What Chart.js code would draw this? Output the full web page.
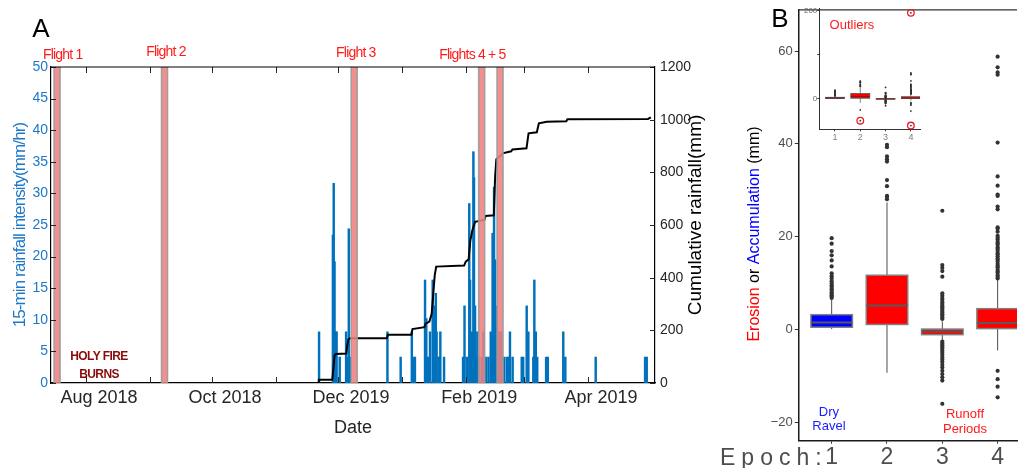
<!DOCTYPE html>
<html>
<head>
<meta charset="utf-8">
<script src="https://cdn.jsdelivr.net/npm/chart.js@4.4.1/dist/chart.umd.min.js"></script>
<style>
  html, body { margin: 0; padding: 0; background: #fff; overflow: hidden; }
  #wrap { position: relative; width: 1021px; height: 468px; }
  canvas { position: absolute; top: 0; }
</style>
</head>
<body>
<div id="wrap">
  <canvas id="chartA" width="720" height="468" style="left:0"></canvas>
  <canvas id="chartB" width="301" height="468" style="left:720px"></canvas>
  <canvas id="chartInset" width="150" height="150" style="left:790px"></canvas>
</div>
<script>
// ---- panel A : rainfall (days counted from 1 Aug 2018) ----
const rainDays = [112.8, 119.5, 119.9, 120.3, 120.8, 121.3, 122.8, 125.9, 126.6, 127.2, 127.8,
  145.9, 152.3, 157.7, 158.4, 159.2, 164.1, 164.7, 165.2, 166.0, 166.5, 167.8, 168.2, 168.6,
  169.3, 169.7, 170.6, 171.0, 171.5, 173.3, 182.5, 183.2, 184.3, 185.5, 185.9, 186.2, 186.7,
  187.5, 187.8, 188.3, 189.0, 189.4, 190.2, 191.5, 192.3, 193.6, 194.8, 195.9, 196.8, 197.5,
  198.0, 198.8, 199.0, 199.6, 200.6, 201.2, 202.3, 203.6, 204.4, 205.2, 206.5, 210.9, 211.6,
  213.3, 214.1, 216.5, 217.0, 217.7, 218.4, 222.7, 223.5, 231.0, 232.0, 246.7, 270.6, 271.4];
const rainRates = [8.1, 23.4, 31.6, 19.2, 8.1, 8.1, 4.1, 8.1, 4.1, 24.4, 4.1,
  8.1, 4.1, 8.1, 4.1, 4.1, 16.3, 10.2, 4.1, 4.1, 8.1, 16.3, 4.1, 12.2,
  14.2, 8.1, 4.1, 4.1, 8.1, 4.1, 4.1, 12.2, 4.1, 28.4, 16.3, 4.1, 8.1,
  36.6, 32.5, 12.2, 4.1, 8.1, 4.1, 4.1, 8.1, 4.1, 4.1, 8.1, 23.7, 31.0,
  19.5, 12.2, 4.1, 8.1, 8.1, 8.1, 4.1, 4.1, 4.1, 8.1, 4.1, 4.1, 4.1,
  12.2, 8.1, 4.1, 16.3, 8.1, 4.1, 4.1, 4.1, 8.1, 4.1, 4.1, 4.1, 4.1];

const cumDays = [92, 112.4, 112.7, 119.2, 119.8, 120.3, 121, 126, 126.4, 127, 128, 145.6, 146.1,
  157.5, 158, 163.8, 164.4, 166.2, 167.3, 168, 168.8, 169.5, 183, 183.8, 185.2, 186, 187, 188.3,
  192.8, 193.4, 197.4, 198, 198.6, 201, 201.6, 205.8, 206.4, 213.2, 214.2, 218.2, 219.2, 223,
  232.5, 233, 272, 273.4];
const cumRain = [0, 0, 12, 12, 60, 105, 110, 112, 140, 166, 170, 170, 183,
  183, 205, 212, 225, 233, 262, 330, 410, 442, 446, 461, 470, 540, 580, 612,
  619, 634, 637, 780, 850, 866, 872, 880, 887, 891, 948, 952, 986, 992,
  994, 1002, 1003, 1009];

const flightDays = [-14.0, 38.0, 129.8, 191.5, 200.4];
const flightNames = ['Flight 1', 'Flight 2', 'Flight 3', 'Flights 4 + 5'];
const flightNameDays = [-11.3, 38.7, 130.6, 187.0];

const monthStarts = [0, 31, 61, 92, 122, 153, 184, 212, 243];
const monthLabels = ['Aug 2018', '', 'Oct 2018', '', 'Dec 2019', '', 'Feb 2019', '', 'Apr 2019'];
const rateTicks = [0, 5, 10, 15, 20, 25, 30, 35, 40, 45, 50];
const cumTicks = [0, 200, 400, 600, 800, 1000, 1200];

// ---- panel B : change per epoch ----
const epochs = [1, 2, 3, 4];
const boxQ1 = [0.5, 1.1, -1.1, 0.2];
const boxMed = [1.5, 5.2, -0.4, 1.4];
const boxQ3 = [3.2, 11.7, 0.1, 4.5];
const whiskLo = [0.1, -9.3, -2.3, -4.5];
const whiskHi = [6.4, 27.4, 1.8, 10.7];
const boxColors = ['#0000ff', '#ff0000', '#ff0000', '#ff0000'];
const outliers = [
  [6.8, 7.1, 7.4, 7.8, 8.1, 8.5, 8.8, 9.2, 9.5, 9.9, 10.4, 11.0, 11.5, 12.1, 13.6, 14.9, 16.0, 16.9, 18.5, 19.7],
  [-50, -25.5, 28.1, 28.6, 28.8, 30.9, 32.2, 36.2, 36.7, 37.3, 39.3, 39.8],
  [-16.0, -11.0, -10.3, -9.6, -8.9, -8.2, -7.6, -7.0, -6.5, -6.0, -5.5, -5.0, -4.6, -4.2, -3.8, -3.4, -3.0, -2.6,
    2.3, 2.6, 3.0, 3.3, 3.7, 4.0, 4.4, 4.8, 5.1, 5.5, 5.9, 6.4, 6.8, 7.3, 7.8, 11.4, 12.6, 13.3, 13.9, 25.6],
  [-61, -28, -14.6, -12.3, -10.7, -8.9, 11.0, 11.3, 11.7, 12.2, 12.5, 12.9, 13.4, 13.7, 14.1, 14.6, 15.0, 15.3,
    15.8, 16.2, 16.5, 17.0, 17.4, 17.7, 18.2, 18.6, 18.9, 19.4, 19.8, 20.2, 21.1, 21.8, 22.0, 25.9, 26.5, 28.8,
    29.1, 31.0, 33.0, 40.3, 54.9, 55.4, 56.5, 58.8, 195]
];
const circledEpochs = [2, 4, 4];
const circledValues = [-50, 195, -61];
const changeTicks = [-20, 0, 20, 40, 60];
const insetTicks = [0, 100, 200];

const FONT = "'Liberation Sans', Arial, Helvetica, sans-serif";
Chart.defaults.font.family = FONT;
Chart.defaults.animation = false;
Chart.defaults.plugins.legend.display = false;
Chart.defaults.plugins.tooltip.enabled = false;

const BAND_HALF = 1.45;   // half width of a flight band, days
const BOX_WIDTH = 0.75;   // box width, epoch units

function txt(ctx, s, x, y, font, color, opts = {}) {
  ctx.save();
  ctx.font = font;
  ctx.fillStyle = color;
  ctx.textAlign = opts.align || 'center';
  ctx.textBaseline = opts.baseline || 'middle';
  if (opts.spacing) ctx.letterSpacing = opts.spacing;
  ctx.translate(x, y);
  if (opts.rotate) ctx.rotate(opts.rotate);
  ctx.fillText(s, 0, 0);
  ctx.restore();
}

const panelADecor = {
  id: 'panelADecor',
  afterDatasetsDraw(chart) {
    const { ctx, chartArea: a, scales: { x, y, y1 } } = chart;
    ctx.save();
    // flight bands over the series
    flightDays.forEach(d => {
      const l = x.getPixelForValue(d - BAND_HALF);
      const r = x.getPixelForValue(d + BAND_HALF);
      ctx.fillStyle = 'rgba(240,128,128,0.88)';
      ctx.fillRect(l, a.top, r - l, a.bottom - a.top);
      ctx.strokeStyle = 'rgba(155,155,155,0.9)';
      ctx.lineWidth = 1.6;
      ctx.beginPath();
      ctx.moveTo(l, a.top); ctx.lineTo(l, a.bottom);
      ctx.moveTo(r, a.top); ctx.lineTo(r, a.bottom);
      ctx.stroke();
    });
    // inward tick marks and top frame
    ctx.strokeStyle = '#262626';
    ctx.lineWidth = 1;
    ctx.beginPath();
    monthStarts.forEach(v => {
      const px = Math.round(x.getPixelForValue(v)) + 0.5;
      ctx.moveTo(px, a.top); ctx.lineTo(px, a.top + 6);
      ctx.moveTo(px, a.bottom); ctx.lineTo(px, a.bottom - 6);
    });
    rateTicks.forEach(v => {
      const py = Math.round(y.getPixelForValue(v)) + 0.5;
      ctx.moveTo(a.left, py); ctx.lineTo(a.left + 5, py);
    });
    cumTicks.forEach(v => {
      const py = Math.round(y1.getPixelForValue(v)) + 0.5;
      ctx.moveTo(a.right, py); ctx.lineTo(a.right - 5, py);
    });
    ctx.stroke();
    ctx.lineWidth = 1.2;
    ctx.strokeStyle = '#000';
    ctx.beginPath();
    ctx.moveTo(a.left, a.top); ctx.lineTo(a.right, a.top);
    ctx.stroke();
    ctx.restore();
  },
  afterDraw(chart) {
    const { ctx, chartArea: a, scales: { x, y } } = chart;
    const labelY = [55, 51.7, 53, 55];
    flightNames.forEach((s, i) => {
      txt(ctx, s, x.getPixelForValue(flightNameDays[i]), labelY[i], '14px ' + FONT, '#ff1a1a', { spacing: '-0.8px' });
    });
    const fx = x.getPixelForValue(6.3);
    txt(ctx, 'HOLY FIRE', fx, y.getPixelForValue(4.1), 'bold 12px ' + FONT, '#8b0a0a', { spacing: '-0.6px' });
    txt(ctx, 'BURNS', fx, y.getPixelForValue(1.25), 'bold 12px ' + FONT, '#8b0a0a', { spacing: '-0.6px' });
    txt(ctx, 'A', 41, 30, '26px ' + FONT, '#000');
    txt(ctx, '15-min rainfall intensity(mm/hr)', 20, (a.top + a.bottom) / 2, '17px ' + FONT, '#1e78c8',
      { rotate: -Math.PI / 2, spacing: '-0.9px' });
    txt(ctx, 'Cumulative rainfall(mm)', 696, 215, '19px ' + FONT, '#000', { rotate: -Math.PI / 2 });
  }
};

new Chart(document.getElementById('chartA'), {
  type: 'bar',
  data: {
    datasets: [
      {
        type: 'line', yAxisID: 'y1', order: 0,
        data: cumDays.map((d, i) => ({ x: d, y: cumRain[i] })),
        borderColor: '#000', borderWidth: 2, pointRadius: 0, tension: 0
      },
      {
        type: 'bar', yAxisID: 'y', order: 1,
        data: rainDays.map((d, i) => ({ x: d, y: rainRates[i] })),
        backgroundColor: '#0072BD', borderWidth: 0, barThickness: 1.8, grouped: false
      }
    ]
  },
  options: {
    responsive: false, devicePixelRatio: 1, events: [],
    layout: { padding: { top: 67, left: 0, right: 0, bottom: 0 } },
    scales: {
      x: {
        type: 'linear', min: -16.94, max: 275.4, offset: false,
        afterBuildTicks: s => { s.ticks = monthStarts.map(v => ({ value: v })); },
        afterFit: s => { s.height = 85; },
        ticks: {
          autoSkip: false, maxRotation: 0, minRotation: 0, padding: 4, labelOffset: 13,
          color: '#262626', font: { size: 18 }, callback: (v, i) => monthLabels[i]
        },
        grid: { display: false, drawTicks: false },
        border: { color: '#000', width: 1.2 },
        title: { display: true, text: 'Date', color: '#262626', font: { size: 18 }, padding: { top: 0, bottom: 29 } }
      },
      y: {
        position: 'left', min: 0, max: 50,
        afterBuildTicks: s => { s.ticks = rateTicks.map(v => ({ value: v })); },
        afterFit: s => { s.width = 51; },
        ticks: { padding: 3, color: '#1e78c8', font: { size: 14 }, callback: v => String(v) },
        grid: { display: false, drawTicks: false },
        border: { color: '#000', width: 1.2 }
      },
      y1: {
        position: 'right', min: 0, max: 1200,
        afterBuildTicks: s => { s.ticks = cumTicks.map(v => ({ value: v })); },
        afterFit: s => { s.width = 65; },
        ticks: { padding: 5, color: '#262626', font: { size: 14 }, callback: v => String(v) },
        grid: { display: false, drawTicks: false },
        border: { color: '#000', width: 1.2 }
      }
    }
  },
  plugins: [panelADecor]
});

// ---- box plots (shared by panel B and its inset) ----
function boxPlugin(id, st) {
  return {
    id,
    beforeDatasetsDraw(chart) {
      const { ctx, chartArea: a, scales: { x, y } } = chart;
      const half = x.getPixelForValue(1 + BOX_WIDTH / 2) - x.getPixelForValue(1);
      ctx.save();
      ctx.beginPath();
      ctx.rect(a.left, a.top, a.right - a.left, a.bottom - a.top);
      ctx.clip();
      epochs.forEach((e, i) => {
        const cx = x.getPixelForValue(e);
        const top = y.getPixelForValue(boxQ3[i]);
        const bot = y.getPixelForValue(boxQ1[i]);
        ctx.strokeStyle = '#4d4d4d';
        ctx.lineWidth = st.whisker;
        ctx.beginPath();
        ctx.moveTo(cx, y.getPixelForValue(whiskHi[i])); ctx.lineTo(cx, top);
        ctx.moveTo(cx, bot); ctx.lineTo(cx, y.getPixelForValue(whiskLo[i]));
        ctx.stroke();
        ctx.fillStyle = boxColors[i];
        ctx.fillRect(cx - half, top, 2 * half, bot - top);
        ctx.strokeStyle = st.edgeColor;
        ctx.lineWidth = st.edge;
        ctx.strokeRect(cx - half, top, 2 * half, bot - top);
        const m = y.getPixelForValue(boxMed[i]);
        ctx.strokeStyle = st.medianColor;
        ctx.lineWidth = st.median;
        ctx.beginPath();
        ctx.moveTo(cx - half, m); ctx.lineTo(cx + half, m);
        ctx.stroke();
      });
      ctx.restore();
    }
  };
}

const outlierPoints = outliers.flatMap((vals, i) => vals.map(v => ({ x: epochs[i], y: v })));

const panelBDecor = {
  id: 'panelBDecor',
  afterDraw(chart) {
    const { ctx, chartArea: a, scales: { x, y } } = chart;
    ctx.save();
    ctx.strokeStyle = '#333';
    ctx.lineWidth = 1.3;
    ctx.beginPath();
    ctx.moveTo(a.left, a.top); ctx.lineTo(a.right, a.top);
    ctx.stroke();
    ctx.restore();

    // y title in three colours, reading upwards
    ctx.save();
    ctx.font = '16px ' + FONT;
    ctx.textBaseline = 'middle';
    ctx.textAlign = 'left';
    const parts = [['Erosion', '#ff0000'], [' or ', '#000'], ['Accumulation', '#0000ff'], [' (mm)', '#000']];
    const total = parts.reduce((s, p) => s + ctx.measureText(p[0]).width, 0);
    ctx.translate(35, 234);
    ctx.rotate(-Math.PI / 2);
    let cur = -total / 2;
    parts.forEach(([s, c]) => {
      ctx.fillStyle = c;
      ctx.fillText(s, cur, 0);
      cur += ctx.measureText(s).width;
    });
    ctx.restore();

    txt(ctx, 'Dry', x.getPixelForValue(0.95), y.getPixelForValue(-17.8), '13px ' + FONT, '#1a1aff');
    txt(ctx, 'Ravel', x.getPixelForValue(0.95), y.getPixelForValue(-20.9), '13px ' + FONT, '#1a1aff');
    txt(ctx, 'Runoff', x.getPixelForValue(3.41), y.getPixelForValue(-18.2), '13px ' + FONT, '#ff1a1a');
    txt(ctx, 'Periods', x.getPixelForValue(3.41), y.getPixelForValue(-21.5), '13px ' + FONT, '#ff1a1a');
    txt(ctx, 'Epoch:', 0, 465, '23px ' + FONT, '#4d4d4d', { align: 'left', baseline: 'alphabetic', spacing: '6px' });
    txt(ctx, 'B', 60, 20, '26px ' + FONT, '#000');
  }
};

const minus = v => (v < 0 ? '\u2212' + Math.abs(v) : String(v));

new Chart(document.getElementById('chartB'), {
  type: 'scatter',
  data: {
    datasets: [{ data: outlierPoints, pointRadius: 2.1, pointBackgroundColor: '#333', pointBorderWidth: 0 }]
  },
  options: {
    responsive: false, devicePixelRatio: 1, events: [],
    layout: { padding: { top: 5, left: 0, right: 0, bottom: 0 } },
    scales: {
      x: {
        type: 'linear', min: 0.404, max: 4.35,
        afterBuildTicks: s => { s.ticks = epochs.map(v => ({ value: v })); },
        afterFit: s => { s.height = 27.3; },
        ticks: { padding: 0, color: '#4d4d4d', font: { size: 23 }, callback: v => String(v) },
        grid: { display: true, drawOnChartArea: false, drawTicks: true, tickLength: 3, color: '#333' },
        border: { color: '#1a1a1a', width: 1.5 }
      },
      y: {
        min: -23.95, max: 68.9,
        afterBuildTicks: s => { s.ticks = changeTicks.map(v => ({ value: v })); },
        afterFit: s => { s.width = 78.7; },
        ticks: { padding: 2, color: '#4d4d4d', font: { size: 13 }, callback: minus },
        grid: { display: true, drawOnChartArea: false, drawTicks: true, tickLength: 4, color: '#333' },
        border: { color: '#1a1a1a', width: 1.5 }
      }
    }
  },
  plugins: [boxPlugin('boxesB', { whisker: 1, edge: 1.5, edgeColor: '#808080', median: 2, medianColor: '#595959' }), panelBDecor]
});

// ---- inset with the full range of outliers ----
const insetDecor = {
  id: 'insetDecor',
  afterDraw(chart) {
    const { ctx, scales: { x, y } } = chart;
    txt(ctx, 'Outliers', x.getPixelForValue(1.67), y.getPixelForValue(167), '13px ' + FONT, '#ff1a1a');
  }
};

new Chart(document.getElementById('chartInset'), {
  type: 'scatter',
  data: {
    datasets: [
      { data: outlierPoints, pointRadius: 0.9, pointBackgroundColor: '#333', pointBorderWidth: 0 },
      {
        data: circledEpochs.map((e, i) => ({ x: e, y: circledValues[i] })),
        pointRadius: 3.3, pointBackgroundColor: 'rgba(0,0,0,0)', pointBorderColor: '#ee1c24', pointBorderWidth: 1.3,
        clip: false
      }
    ]
  },
  options: {
    responsive: false, devicePixelRatio: 1, events: [],
    layout: { padding: { top: 8, left: 0, right: 20, bottom: 0 } },
    scales: {
      x: {
        type: 'linear', min: 0.38, max: 4.36,
        afterBuildTicks: s => { s.ticks = epochs.map(v => ({ value: v })); },
        afterFit: s => { s.height = 20.7; },
        ticks: { padding: 1, color: '#808080', font: { size: 9 }, callback: v => String(v) },
        grid: { display: true, drawOnChartArea: false, drawTicks: true, tickLength: 2, color: '#333' },
        border: { color: '#333', width: 1 }
      },
      y: {
        min: -69.5, max: 206,
        afterBuildTicks: s => { s.ticks = insetTicks.map(v => ({ value: v })); },
        afterFit: s => { s.width = 29.3; },
        ticks: { padding: 0, color: '#666', font: { size: 8 }, callback: v => (v === 100 ? '' : String(v)) },
        grid: { display: true, drawOnChartArea: false, drawTicks: true, tickLength: 2, color: '#333' },
        border: { color: '#333', width: 1 }
      }
    }
  },
  plugins: [boxPlugin('boxesInset', { whisker: 0.7, edge: 0.8, edgeColor: '#555', median: 1, medianColor: '#6b2020' }), insetDecor]
});
</script>
</body>
</html>
